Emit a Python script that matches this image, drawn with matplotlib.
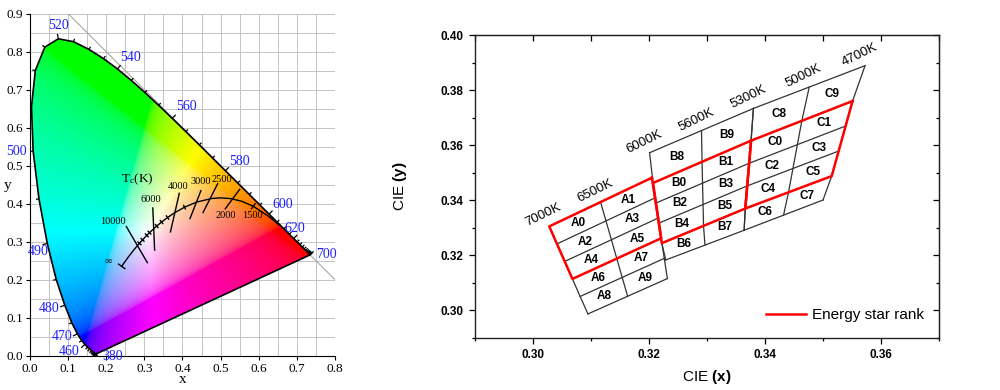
import numpy as np
import matplotlib
matplotlib.use("Agg")
import matplotlib.pyplot as plt
from matplotlib.patches import Polygon
from matplotlib.collections import LineCollection
from matplotlib.ticker import MultipleLocator, FormatStrFormatter

plt.rcParams['mathtext.fontset'] = 'custom'
plt.rcParams['mathtext.rm'] = 'Liberation Serif'
plt.rcParams['mathtext.it'] = 'Liberation Serif:italic'
plt.rcParams['mathtext.bf'] = 'Liberation Sans:bold'

SERIF = 'Liberation Serif'
SANS = 'Liberation Sans'

# ---------------- left panel data: CIE 1931 chromaticity ----------------
wavelength = list(range(380, 705, 5))
locus_x = [0.1741, 0.1740, 0.1738, 0.1736, 0.1733, 0.1730, 0.1726, 0.1721, 0.1714, 0.1703,
           0.1689, 0.1669, 0.1644, 0.1611, 0.1566, 0.1510, 0.1440, 0.1355, 0.1241, 0.1096,
           0.0913, 0.0687, 0.0454, 0.0235, 0.0082, 0.0039, 0.0139, 0.0389, 0.0743, 0.1142,
           0.1547, 0.1929, 0.2296, 0.2658, 0.3016, 0.3373, 0.3731, 0.4087, 0.4441, 0.4788,
           0.5125, 0.5448, 0.5752, 0.6029, 0.6270, 0.6482, 0.6658, 0.6801, 0.6915, 0.7006,
           0.7079, 0.7140, 0.7190, 0.7230, 0.7260, 0.7283, 0.7300, 0.7311, 0.7320, 0.7327,
           0.7334, 0.7340, 0.7344, 0.7346, 0.7347]
locus_y = [0.0050, 0.0050, 0.0049, 0.0049, 0.0048, 0.0048, 0.0048, 0.0048, 0.0051, 0.0058,
           0.0069, 0.0086, 0.0109, 0.0138, 0.0177, 0.0227, 0.0297, 0.0399, 0.0578, 0.0868,
           0.1327, 0.2007, 0.2950, 0.4127, 0.5384, 0.6548, 0.7502, 0.8120, 0.8338, 0.8262,
           0.8059, 0.7816, 0.7543, 0.7243, 0.6923, 0.6589, 0.6245, 0.5896, 0.5547, 0.5202,
           0.4866, 0.4544, 0.4242, 0.3965, 0.3725, 0.3514, 0.3340, 0.3197, 0.3083, 0.2993,
           0.2920, 0.2859, 0.2809, 0.2770, 0.2740, 0.2717, 0.2700, 0.2689, 0.2680, 0.2673,
           0.2666, 0.2660, 0.2656, 0.2654, 0.2653]

wl_labels = [380, 460, 470, 480, 490, 500, 520, 540, 560, 580, 600, 620, 700]
wl_label_x = [0.217, 0.103, 0.084, 0.049, 0.022, -0.036, 0.075, 0.263, 0.410, 0.550, 0.664, 0.695, 0.778]
wl_label_y = [-0.003, 0.012, 0.050, 0.125, 0.274, 0.537, 0.868, 0.784, 0.655, 0.512, 0.399, 0.335, 0.265]

# Planckian locus (inf ... 1000 K)
planck_T = ['inf', 20000, 15000, 12000, 10000, 9000, 8000, 7000, 6500, 6000, 5500, 5000,
            4500, 4000, 3500, 3000, 2500, 2250, 2000, 1750, 1500, 1200, 1000]
planck_x = [0.2404, 0.2564, 0.2637, 0.2718, 0.2807, 0.2870, 0.2952, 0.3064, 0.3135, 0.3221,
            0.3325, 0.3451, 0.3608, 0.3805, 0.4053, 0.4369, 0.4770, 0.5003, 0.5266, 0.5553,
            0.5857, 0.6250, 0.6528]
planck_y = [0.2351, 0.2576, 0.2672, 0.2776, 0.2883, 0.2956, 0.3048, 0.3166, 0.3237, 0.3318,
            0.3411, 0.3516, 0.3636, 0.3768, 0.3907, 0.4041, 0.4137, 0.4153, 0.4133, 0.4063,
            0.3931, 0.3672, 0.3444]
small_tick_T = [9000, 8000, 7000, 6500, 5500, 5000, 4500, 3500]

# isotherm lines
iso_x0 = [0.2518, 0.3220, 0.3920, 0.4490, 0.4930, 0.5510, 0.5916]
iso_y0 = [0.3413, 0.3905, 0.4290, 0.4360, 0.4540, 0.4390, 0.4012]
iso_x1 = [0.3087, 0.3270, 0.3680, 0.4190, 0.4530, 0.5110, 0.5798]
iso_y1 = [0.2432, 0.2760, 0.3240, 0.3590, 0.3750, 0.3850, 0.3850]

tc_text = ['10000', '6000', '4000', '3000', '2500', '2000', '1500', '\u221e']
tc_x = [0.217, 0.318, 0.388, 0.447, 0.502, 0.513, 0.583, 0.206]
tc_y = [0.353, 0.410, 0.445, 0.458, 0.464, 0.368, 0.368, 0.247]

# ---------------- right panel data: LED bins ----------------
A_left_x = [0.3028, 0.30413, 0.30547, 0.3068, 0.30813, 0.30947]
A_left_y = [0.3304, 0.32403, 0.31767, 0.3113, 0.30493, 0.29857]
A_mid_x = [0.31165, 0.31258, 0.31352, 0.31445, 0.31538, 0.31632]
A_mid_y = [0.33925, 0.3324, 0.32555, 0.3187, 0.31185, 0.305]
A_right_x = [0.3205, 0.32103, 0.32157, 0.3221, 0.32263, 0.32317]
A_right_y = [0.3481, 0.34077, 0.33343, 0.3261, 0.31877, 0.31143]

B_left_x = [0.3201, 0.3207, 0.3212, 0.3217, 0.3222, 0.3229]
B_left_y = [0.3572, 0.3462, 0.3389, 0.3316, 0.3243, 0.3182]
B_mid_x = [0.32905, 0.32915, 0.32923, 0.32932, 0.3294, 0.32965]
B_mid_y = [0.36525, 0.3539, 0.34613, 0.33837, 0.3306, 0.3236]
B_right_x = [0.3380, 0.3376, 0.33727, 0.33693, 0.3366, 0.3364]
B_right_y = [0.3733, 0.3616, 0.35337, 0.34513, 0.3369, 0.3290]

C_left_x = B_right_x
C_left_y = B_right_y
C_mid_x = [0.34763, 0.34635, 0.34558, 0.34482, 0.34405, 0.3432]
C_mid_y = [0.38108, 0.3688, 0.36013, 0.35147, 0.3428, 0.3345]
C_right_x = [0.35725, 0.3551, 0.3539, 0.3527, 0.3515, 0.3500]
C_right_y = [0.38885, 0.3760, 0.3669, 0.3578, 0.3487, 0.3400]

A_names_left = ['A0', 'A2', 'A4', 'A6', 'A8']
A_names_right = ['A1', 'A3', 'A5', 'A7', 'A9']
B_names_left = ['B8', 'B0', 'B2', 'B4', 'B6']
B_names_right = ['B9', 'B1', 'B3', 'B5', 'B7']
C_names_left = ['C8', 'C0', 'C2', 'C4', 'C6']
C_names_right = ['C9', 'C1', 'C3', 'C5', 'C7']

# energy star quadrangles
es6500_x = [0.3205, 0.3028, 0.3068, 0.3221]
es6500_y = [0.3481, 0.3304, 0.3113, 0.3261]
es5700_x = [0.3376, 0.3207, 0.3222, 0.3366]
es5700_y = [0.3616, 0.3462, 0.3243, 0.3369]
es5000_x = [0.3551, 0.3376, 0.3366, 0.3515]
es5000_y = [0.3760, 0.3616, 0.3369, 0.3487]

cct_labels = ['7000K', '6500K', '6000K', '5600K', '5300K', '5000K', '4700K']
cct_x = [A_left_x[0], A_mid_x[0], B_left_x[0], B_mid_x[0], B_right_x[0], C_mid_x[0], C_right_x[0]]
cct_y = [A_left_y[0], A_mid_y[0], B_left_y[0], B_mid_y[0], B_right_y[0], C_mid_y[0], C_right_y[0]]

right_xticks = [0.30, 0.32, 0.34, 0.36]
right_yticks = [0.30, 0.32, 0.34, 0.36, 0.38, 0.40]


fig = plt.figure(figsize=(10, 3.9), dpi=100)
ax1 = fig.add_axes([0.030, 0.088, 0.305, 0.877])
ax2 = fig.add_axes([0.475, 0.1346, 0.464, 0.7756])

# ================= left: chromaticity diagram =================
gx = np.linspace(0, 0.8, 480)
gy = np.linspace(0.0005, 0.9, 540)
GX, GY = np.meshgrid(gx, gy)
XYZ = np.stack([GX / GY, np.ones_like(GX), (1 - GX - GY) / GY])
M = np.array([[3.2406, -1.5372, -0.4986],
              [-0.9689, 1.8758, 0.0415],
              [0.0557, -0.2040, 1.0570]])
rgb = np.tensordot(M, XYZ, axes=1)
rgb = np.clip(rgb, 0, None)
rgb = rgb / np.maximum(rgb.max(axis=0), 1e-9)
rgb = np.where(rgb <= 0.0031308, 12.92 * rgb, 1.055 * rgb ** (1 / 2.4) - 0.055)
rgb = np.clip(rgb, 0, 1) ** 0.8
img = np.moveaxis(rgb, 0, -1)

ax1.set_xlim(0, 0.8)
ax1.set_ylim(0, 0.9)
ax1.set_axisbelow(True)
ax1.xaxis.set_minor_locator(MultipleLocator(0.05))
ax1.yaxis.set_minor_locator(MultipleLocator(0.05))
ax1.grid(which='both', color='#c4c4c4', lw=0.7)
ax1.set_xticks(np.arange(0, 0.81, 0.1))
ax1.set_yticks(np.arange(0, 0.91, 0.1))
ax1.xaxis.set_major_formatter(FormatStrFormatter('%.1f'))
ax1.yaxis.set_major_formatter(FormatStrFormatter('%.1f'))
ax1.tick_params(which='minor', length=0)
ax1.tick_params(which='major', length=3, width=0.8, labelsize=9.5, pad=2)
for lab in ax1.get_xticklabels() + ax1.get_yticklabels():
    lab.set_fontfamily(SERIF)
for s in ('top', 'right'):
    ax1.spines[s].set_visible(False)
ax1.set_xlabel('x', fontsize=11, family=SERIF, labelpad=-1)
ax1.set_ylabel('y', fontsize=11, family=SERIF, rotation=0)
ax1.yaxis.set_label_coords(-0.075, 0.48)

ax1.plot([0.1, 0.8], [0.9, 0.2], color='#a8a8a8', lw=0.8, zorder=1)

im = ax1.imshow(img, extent=(0, 0.8, 0, 0.9), origin='lower', aspect='auto',
                interpolation='bilinear', zorder=2)
gamut = Polygon(np.column_stack([locus_x, locus_y]), closed=True, transform=ax1.transData,
                facecolor='none', edgecolor='black', lw=1.2, zorder=3)
ax1.add_patch(gamut)
im.set_clip_path(gamut)

# wavelength ticks on the locus
lx = np.array(locus_x)
ly = np.array(locus_y)
dx = np.gradient(lx)
dy = np.gradient(ly)
nrm = np.hypot(dx, dy)
ox, oy = -dy / nrm, dx / nrm
segs = []
for i, w in enumerate(wavelength):
    ln = 0.013 if w in wl_labels else 0.008
    segs.append([(lx[i], ly[i]), (lx[i] + ox[i] * ln, ly[i] + oy[i] * ln)])
ax1.add_collection(LineCollection(segs, colors='black', linewidths=0.9, zorder=3))
for w, tx, ty in zip(wl_labels, wl_label_x, wl_label_y):
    ax1.text(tx, ty, str(w), color='#1f1fff', fontsize=10, family=SERIF,
             ha='center', va='center', clip_on=False, zorder=4)

# Planckian locus
px_ = np.array(planck_x)
py_ = np.array(planck_y)
ax1.plot(px_, py_, color='black', lw=1.0, zorder=4)
pdx = np.gradient(px_)
pdy = np.gradient(py_)
pn = np.hypot(pdx, pdy)
tsegs = []
for i, t in enumerate(planck_T):
    if t in small_tick_T:
        h = 0.007
    elif t == 'inf':
        h = 0.012
    else:
        continue
    qx, qy = -pdy[i] / pn[i] * h, pdx[i] / pn[i] * h
    tsegs.append([(px_[i] - qx, py_[i] - qy), (px_[i] + qx, py_[i] + qy)])
for a, b, c, d in zip(iso_x0, iso_y0, iso_x1, iso_y1):
    tsegs.append([(a, b), (c, d)])
ax1.add_collection(LineCollection(tsegs, colors='black', linewidths=1.0, zorder=4))
for s, tx, ty in zip(tc_text, tc_x, tc_y):
    ax1.text(tx, ty, s, fontsize=7.5, family=[SERIF, 'DejaVu Serif'],
             ha='center', va='center', zorder=5)
ax1.text(0.282, 0.464, r'T$_\mathrm{c}$(K)', fontsize=9.5, family=SERIF,
         ha='center', va='center', zorder=5)

# ================= right: bin chart =================
grid_c = '#333333'


def draw_group(ax, lx_, ly_, mx_, my_, rx_, ry_, names_l, names_r):
    for xs, ys in ((lx_, ly_), (mx_, my_), (rx_, ry_)):
        ax.plot(xs, ys, color=grid_c, lw=0.9, zorder=2)
    for i in range(len(lx_)):
        ax.plot([lx_[i], rx_[i]], [ly_[i], ry_[i]], color=grid_c, lw=0.9, zorder=2)
    for i in range(len(lx_) - 1):
        cx = (lx_[i] + lx_[i + 1] + mx_[i] + mx_[i + 1]) / 4
        cy = (ly_[i] + ly_[i + 1] + my_[i] + my_[i + 1]) / 4
        ax.text(cx, cy, names_l[i], fontsize=8.5, fontweight='bold', family=SANS,
                ha='center', va='center', zorder=4)
        cx = (rx_[i] + rx_[i + 1] + mx_[i] + mx_[i + 1]) / 4
        cy = (ry_[i] + ry_[i + 1] + my_[i] + my_[i + 1]) / 4
        ax.text(cx, cy, names_r[i], fontsize=8.5, fontweight='bold', family=SANS,
                ha='center', va='center', zorder=4)


draw_group(ax2, A_left_x, A_left_y, A_mid_x, A_mid_y, A_right_x, A_right_y,
           A_names_left, A_names_right)
draw_group(ax2, B_left_x, B_left_y, B_mid_x, B_mid_y, B_right_x, B_right_y,
           B_names_left, B_names_right)
draw_group(ax2, C_left_x, C_left_y, C_mid_x, C_mid_y, C_right_x, C_right_y,
           C_names_left, C_names_right)

first = True
for qx, qy in ((es6500_x, es6500_y), (es5700_x, es5700_y), (es5000_x, es5000_y)):
    ax2.plot(qx + qx[:1], qy + qy[:1], color='#ff0000', lw=1.8, zorder=3,
             label='Energy star rank' if first else None)
    first = False

for s, vx, vy in zip(cct_labels, cct_x, cct_y):
    ax2.annotate(s, (vx, vy), xytext=(-4, 8), textcoords='offset points',
                 fontsize=9.5, family=SANS, rotation=26, ha='center', va='center',
                 rotation_mode='anchor')

ax2.set_xlim(0.29, 0.37)
ax2.set_ylim(0.29, 0.40)
ax2.set_xticks(right_xticks, labels=['%.2f' % v for v in right_xticks],
               fontweight='bold', family=SANS, fontsize=8.5)
ax2.set_yticks(right_yticks, labels=['%.2f' % v for v in right_yticks],
               fontweight='bold', family=SANS, fontsize=8.5)
ax2.xaxis.set_minor_locator(MultipleLocator(0.01))
ax2.yaxis.set_minor_locator(MultipleLocator(0.01))
ax2.tick_params(which='major', direction='out', length=4.5, width=0.9, pad=4)
ax2.tick_params(which='minor', direction='out', length=2.5, width=0.9)
for s in ax2.spines.values():
    s.set_linewidth(1.0)
    s.set_color('#222222')

top = ax2.secondary_xaxis('top')
top.set_xticks(right_xticks, labels=[])
top.xaxis.set_minor_locator(MultipleLocator(0.01))
top.tick_params(which='both', direction='in', length=4, width=0.9)
rgt = ax2.secondary_yaxis('right')
rgt.set_yticks(right_yticks, labels=[])
rgt.yaxis.set_minor_locator(MultipleLocator(0.01))
rgt.tick_params(which='major', direction='in', length=4.5, width=0.9)
rgt.tick_params(which='minor', direction='in', length=2.5, width=0.9)

ax2.set_xlabel(r'CIE $\mathbf{(x)}$', fontsize=11, family=SANS, labelpad=5)
ax2.set_ylabel(r'CIE $\mathbf{(y)}$', fontsize=11, family=SANS)
ax2.yaxis.set_label_coords(-0.142, 0.5)
ax2.legend(loc='lower right', frameon=False, prop={'family': SANS, 'size': 11},
           handlelength=2.6, handletextpad=0.4, borderaxespad=0.6)

fig.savefig('out.png', dpi=100)
